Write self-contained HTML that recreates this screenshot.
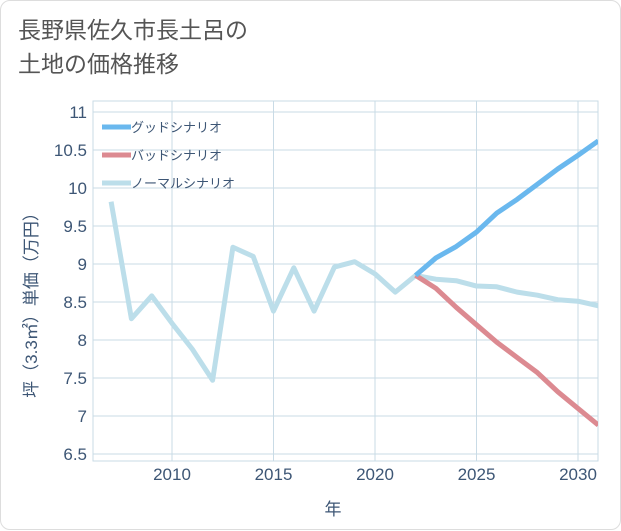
<!DOCTYPE html>
<html><head><meta charset="utf-8"><style>
body{margin:0;background:#fff;font-family:"Liberation Sans","Noto Sans CJK JP",sans-serif}
#card{position:absolute;left:0;top:0;width:619px;height:528px;border:1px solid #ddd;border-radius:10px;background:#fff}
#title{position:absolute;left:17px;top:12px;font-size:23px;line-height:34px;color:#555}
</style></head><body>
<div id="card">
<div id="title">長野県佐久市長土呂の<br>土地の価格推移</div>
<svg id="chart" width="621" height="530" style="position:absolute;left:0;top:0"></svg>
</div>
<script>
const years=[2007,2008,2009,2010,2011,2012,2013,2014,2015,2016,2017,2018,2019,2020,2021,2022,2023,2024,2025,2026,2027,2028,2029,2030,2031];
const normal=[9.82,8.28,8.58,8.22,7.88,7.47,9.22,9.1,8.38,8.95,8.38,8.96,9.03,8.87,8.63,8.85,8.8,8.78,8.71,8.7,8.63,8.59,8.53,8.51,8.45];
const futYears=[2022,2023,2024,2025,2026,2027,2028,2029,2030,2031];
const good=[8.85,9.08,9.23,9.42,9.67,9.85,10.05,10.25,10.43,10.62];
const bad=[8.85,8.68,8.43,8.2,7.97,7.77,7.57,7.32,7.1,6.88];
const yTicks=[6.5,7,7.5,8,8.5,9,9.5,10,10.5,11];
const xTicks=[2010,2015,2020,2025,2030];
const L=92,R=597,T=100,B=460;
const x=v=>171+(v-2010)*20.3;
const y=v=>453-(v-6.5)*76;
const svg=document.getElementById('chart');const NS='http://www.w3.org/2000/svg';
function el(t,a,p){const e=document.createElementNS(NS,t);for(const k in a)e.setAttribute(k,a[k]);(p||svg).appendChild(e);return e;}
const frame=el('rect',{x:L,y:T,width:R-L,height:B-T,fill:'none',stroke:'#c9dbe6'});


yTicks.forEach(v=>{const g=el('line',{x1:L,x2:R,y1:y(v),y2:y(v),stroke:'#c9dbe6'});


const t=el('text',{x:L-6,y:y(v)+6,'text-anchor':'end','font-size':17,fill:'#3d5675'});t.textContent=v;

});
xTicks.forEach(v=>{const g=el('line',{x1:x(v),x2:x(v),y1:T,y2:B,stroke:'#c9dbe6'});


const t=el('text',{x:x(v),y:B+19,'text-anchor':'middle','font-size':17,fill:'#3d5675'});t.textContent=v;

});
const cp=el('clipPath',{id:'cp'});el('rect',{x:L,y:T,width:R-L,height:B-T},cp);
function line(xs,vs,c,n){const p=el('polyline',{points:xs.map((v,i)=>x(v)+','+y(vs[i])).join(' '),fill:'none',stroke:c,'stroke-width':5,'clip-path':'url(#cp)','stroke-linejoin':'round'});

}
line(years,normal,'#bcdeea','normal-line');
line(futYears,bad,'#dc8a91','bad-line');
line(futYears,good,'#6ab8ee','good-line');
[['グッドシナリオ','#6ab8ee'],['バッドシナリオ','#dc8a91'],['ノーマルシナリオ','#bcdeea']].forEach((d,i)=>{
const yy=126+i*28;
const l=el('line',{x1:101,x2:130,y1:yy,y2:yy,stroke:d[1],'stroke-width':5});


const t=el('text',{x:130,y:yy+5,'font-size':13,fill:'#3d5675'});t.textContent=d[0];

});
const xt=el('text',{x:332,y:514,'text-anchor':'middle','font-size':17,fill:'#3d5675'});xt.textContent='年';


const yt=el('text',{x:0,y:0,'text-anchor':'middle','font-size':17,fill:'#3d5675',transform:'translate(36,300) rotate(-90)'});yt.textContent='坪（3.3㎡）単価（万円）';


</script>
</body></html>
